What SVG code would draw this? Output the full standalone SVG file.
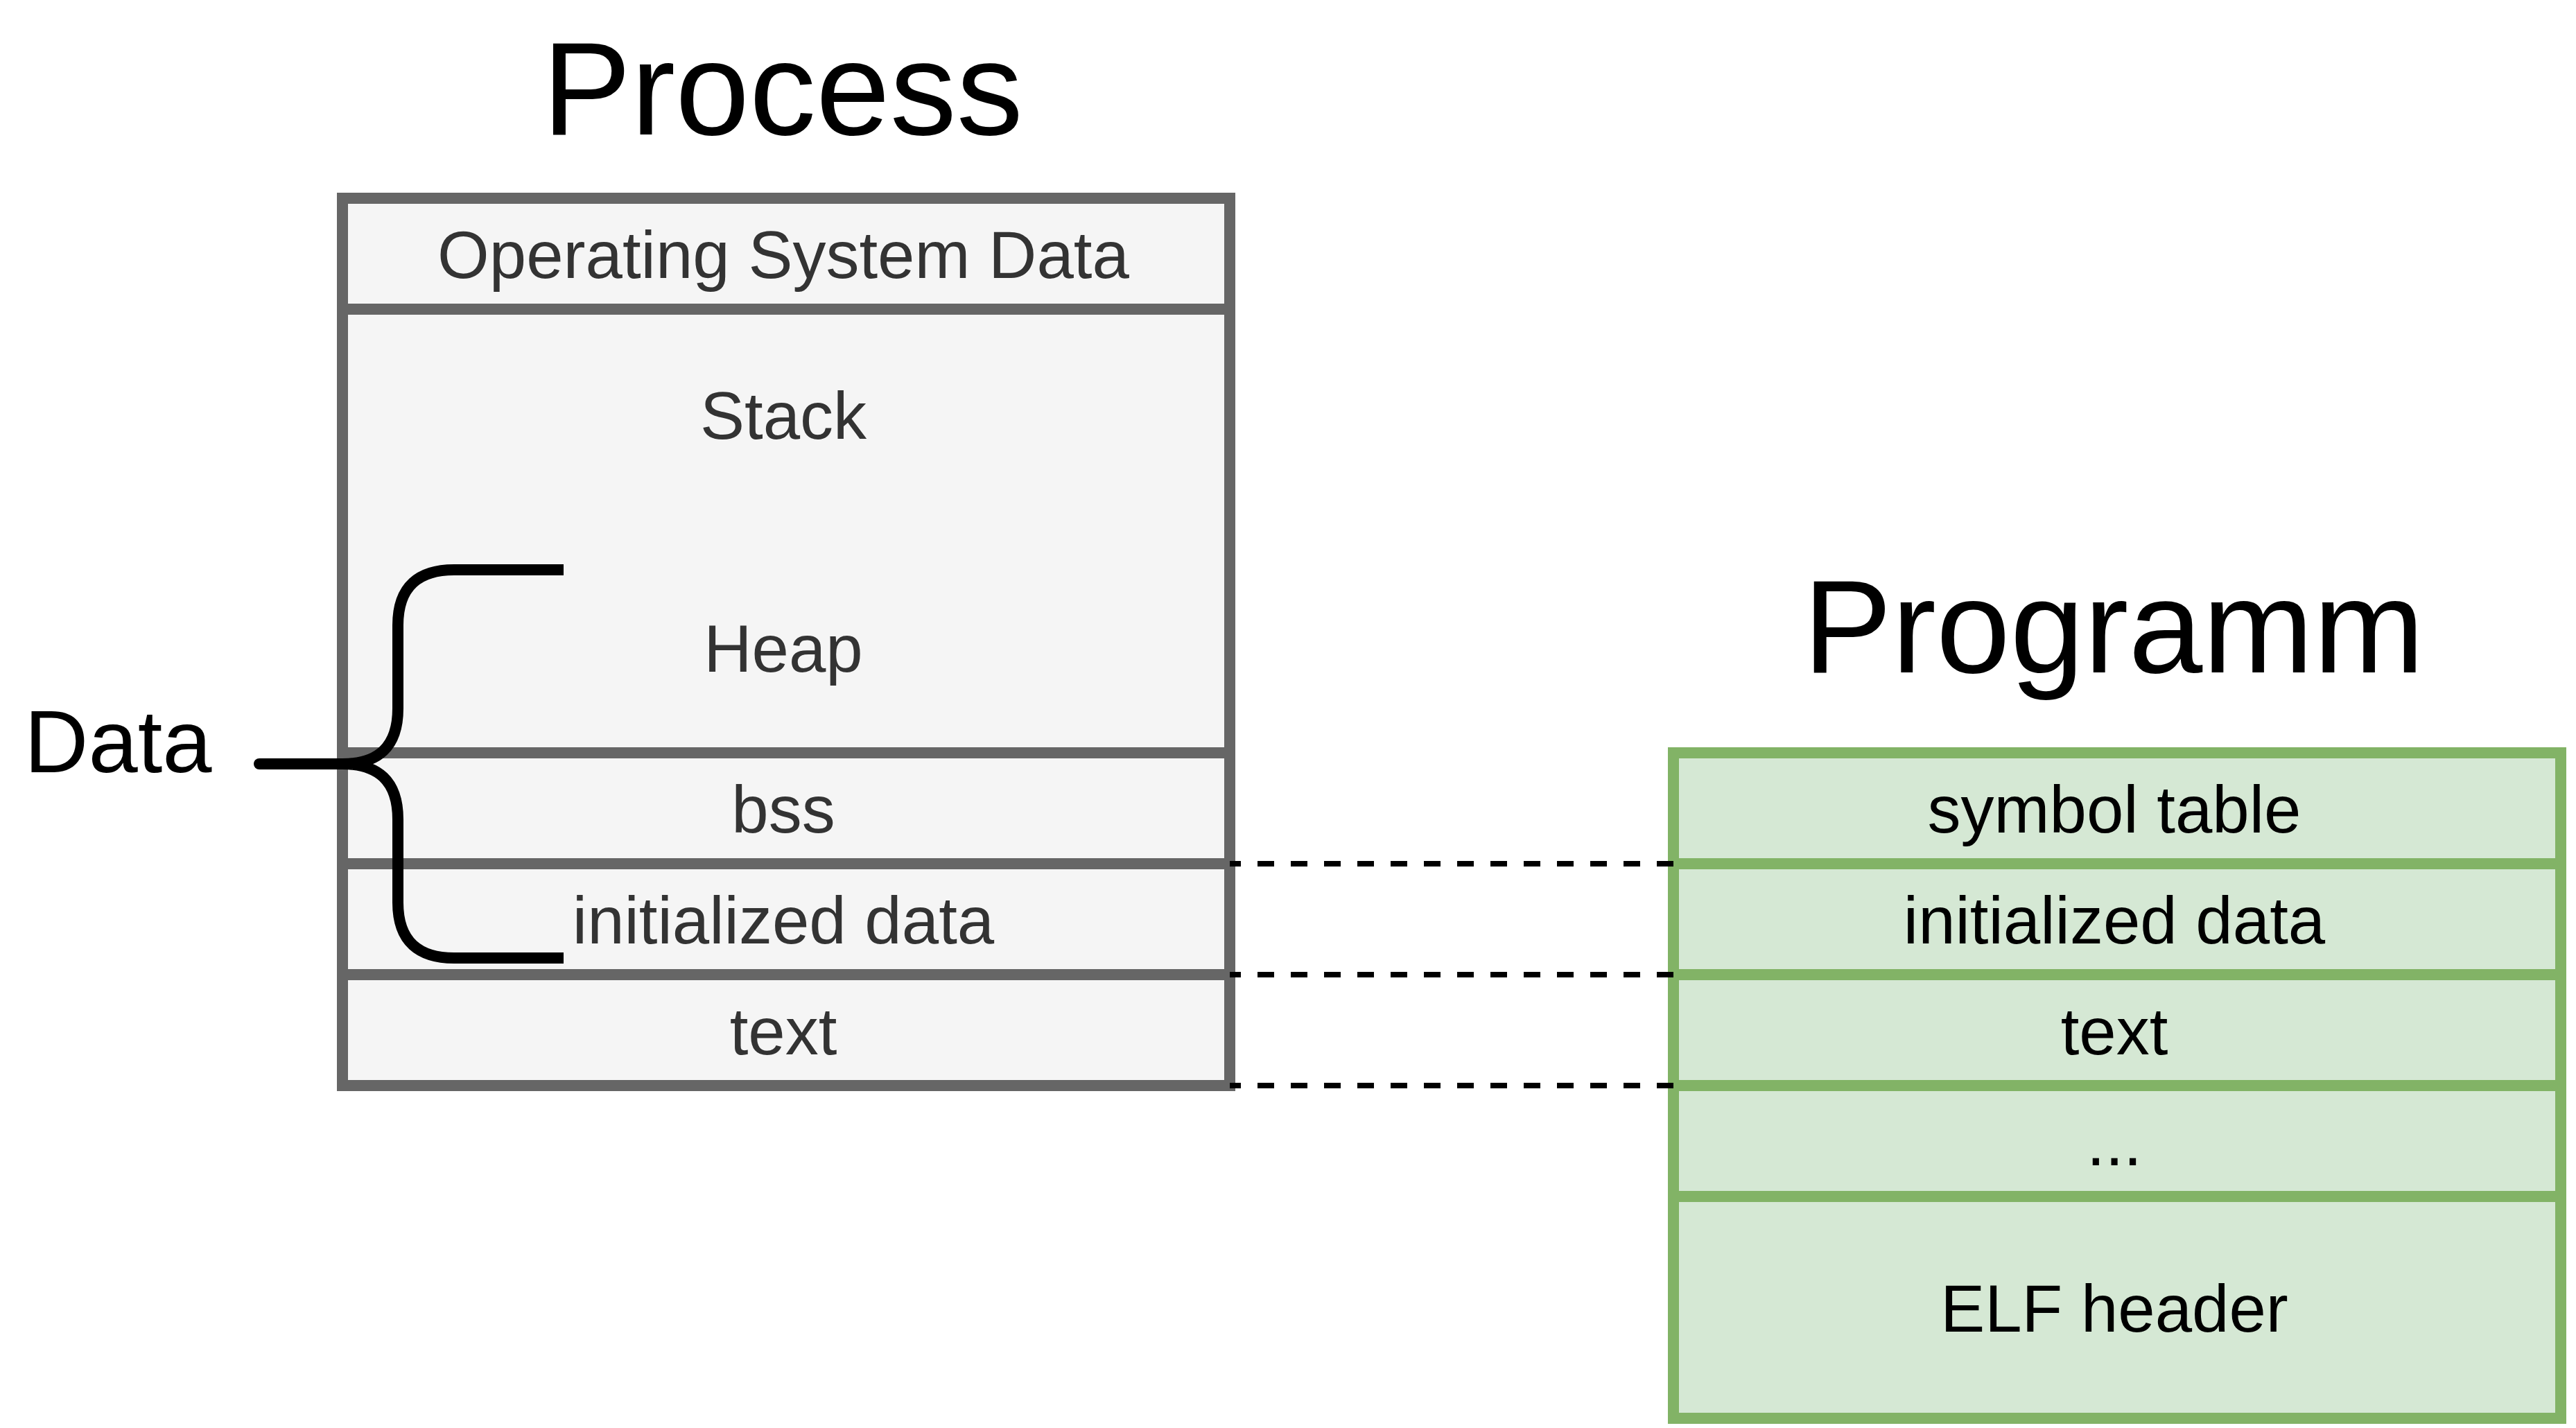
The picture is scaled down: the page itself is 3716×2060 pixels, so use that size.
<svg xmlns="http://www.w3.org/2000/svg" width="3716" height="2060" viewBox="0 0 3716 2060">
<style>
text{font-family:"Liberation Sans",Arial,Helvetica,sans-serif;text-anchor:middle}
.title{font-size:192px;fill:#000}
.plbl{font-size:96px;fill:#333333}
.glbl{font-size:96px;fill:#000}
.prow{fill:#f5f5f5;stroke:#666666;stroke-width:16}
.grow{fill:#d5e8d4;stroke:#82b366;stroke-width:16}
.dash{stroke:#000;stroke-width:8;stroke-dasharray:24 24;fill:none}
.brace{stroke:#000;stroke-width:16;fill:none}
</style>
<rect width="3716" height="2060" fill="#ffffff"/>
<g id="process-title"><text class="title" x="1129" y="194">Process</text></g>
<g id="programm-title"><text class="title" x="3049" y="970">Programm</text></g>
<g id="process">
  <g id="p-os"><rect class="prow" x="494" y="286" width="1280" height="160"/><text class="plbl" x="1130" y="401">Operating System Data</text></g>
  <g id="p-stackheap"><rect class="prow" x="494" y="446" width="1280" height="640"/><text class="plbl" x="1130" y="633">Stack</text><text class="plbl" x="1130" y="969">Heap</text></g>
  <g id="p-bss"><rect class="prow" x="494" y="1086" width="1280" height="160"/><text class="plbl" x="1130" y="1201">bss</text></g>
  <g id="p-init"><rect class="prow" x="494" y="1246" width="1280" height="160"/><text class="plbl" x="1130" y="1361">initialized data</text></g>
  <g id="p-text"><rect class="prow" x="494" y="1406" width="1280" height="160"/><text class="plbl" x="1130" y="1521">text</text></g>
</g>
<g id="programm">
  <g id="g-sym"><rect class="grow" x="2414" y="1086" width="1280" height="160"/><text class="glbl" x="3050" y="1201">symbol table</text></g>
  <g id="g-init"><rect class="grow" x="2414" y="1246" width="1280" height="160"/><text class="glbl" x="3050" y="1361">initialized data</text></g>
  <g id="g-text"><rect class="grow" x="2414" y="1406" width="1280" height="160"/><text class="glbl" x="3050" y="1521">text</text></g>
  <g id="g-dots"><rect class="grow" x="2414" y="1566" width="1280" height="160"/><text class="glbl" x="3050" y="1681">...</text></g>
  <g id="g-elf"><rect class="grow" x="2414" y="1726" width="1280" height="320"/><text class="glbl" x="3050" y="1921">ELF header</text></g>
</g>
<g id="data-brace">
  <path class="brace" d="M 813 822 H 655 C 605 822 574 845 574 902 V 1022 C 574 1078 545 1102 494 1102 C 545 1102 574 1126 574 1182 V 1302 C 574 1359 605 1382 655 1382 H 813"/>
  <line x1="374" y1="1102" x2="500" y2="1102" stroke="#000" stroke-width="16" stroke-linecap="round"/>
  <text x="35" y="1114" style="font-size:128px;fill:#000;text-anchor:start">Data</text>
</g>
<g id="connectors">
  <line class="dash" x1="2414" y1="1246" x2="1774" y2="1246"/>
  <line class="dash" x1="2414" y1="1406" x2="1774" y2="1406"/>
  <line class="dash" x1="2414" y1="1566" x2="1774" y2="1566"/>
</g>
</svg>
